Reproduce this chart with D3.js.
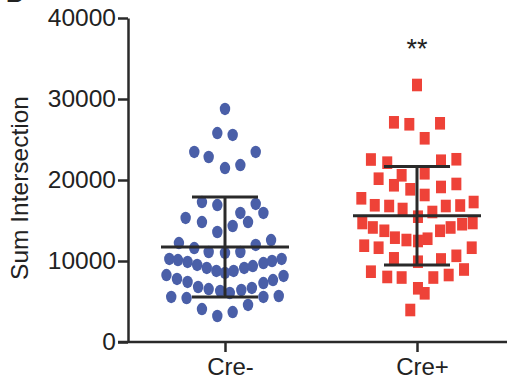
<!DOCTYPE html>
<html>
<head>
<meta charset="utf-8">
<script src="https://cdn.jsdelivr.net/npm/d3@7"></script>
<style>
  html, body { margin: 0; padding: 0; background: #fff; }
  svg { display: block; }
  text { font-family: "Liberation Sans", Arial, Helvetica, sans-serif; fill: #222; }
</style>
</head>
<body>
<svg id="chart" width="507" height="381"></svg>
<script>
// ---- Data ----
const categories = ["Cre-", "Cre+"];
const yTickValues = [0, 10000, 20000, 30000, 40000];
const yLabel = "Sum Intersection";
const significance = "**";

// Cre- group: values and horizontal scatter offsets (jitter units, 1 unit = 1/20 of category step)
const creMinusValues = [
  28770, 25800, 25560, 23460, 22840, 23460, 21480, 21850,
  17280, 16910, 17040, 15310, 14810, 15930, 15930, 14810, 14320, 13580,
  12220, 11600, 11110, 10990, 11110, 11980, 12590,
  10250, 10120, 9880, 9510, 9140, 8770, 8520, 8770, 9140, 9380, 9750, 10000, 10250,
  8270, 7780, 7410, 6790, 6540, 6300, 6050, 6420, 6670, 7280, 7650, 8150,
  5560, 5430, 5560, 5680, 4070, 3210, 3700, 4570
];
const creMinusJitter = [
  0, -0.8, 0.8, -3.2, -1.7, 3.2, 0, 1.6,
  -2.4, -0.8, 3.2, -4.1, -2.4, 1.6, 4.0, 2.4, 0.8, -0.8,
  -4.8, -3.2, -1.7, 0, 1.6, 3.2, 4.8,
  -5.8, -4.9, -3.9, -2.9, -1.9, -0.9, 0, 0.9, 2.0, 2.9, 4.0, 4.9, 5.9,
  -6.1, -5.0, -3.9, -2.8, -1.7, -0.5, 0.5, 1.7, 2.8, 4.0, 5.0, 6.1,
  -5.6, -4.0, 4.0, 5.6, -2.4, -0.8, 0.8, 2.4
];

// Cre+ group
const crePlusValues = [
  31730, 27120, 26880, 27000, 25150,
  22530, 22140, 22380, 22560, 20160, 20580, 20830,
  19350, 18850, 19140, 19510, 18150,
  17740, 16880, 16790, 16420, 16050, 16790, 16850, 17280, 15470,
  14690, 14140, 13730, 12880, 12590, 12470, 12750, 13730, 14140, 14540, 14690,
  11890, 11640, 10330, 9910, 10190, 10640, 11640,
  8680, 8030, 7960, 6630, 6010, 7960, 8270, 8950, 3950
];
const crePlusJitter = [
  0, -2.4, -0.8, 2.4, 0.8,
  -4.8, -3.1, 2.5, 4.1, -4.0, -1.6, 0.8,
  -2.4, -0.7, 2.5, 4.1, 0.8,
  -5.8, -4.4, -2.9, -1.5, 1.6, 3.0, 4.5, 5.9, 0.1,
  -5.7, -4.6, -3.4, -2.3, -1.1, 0.1, 1.1, 2.4, 3.5, 4.7, 5.8,
  -5.5, -4.0, -2.4, 0.1, 2.5, 4.1, 5.7,
  -4.8, -3.1, -1.6, 0.1, 0.8, 1.7, 3.3, 4.9, -0.7
];

// Summary statistics (mean ± SD) as drawn
const meanValues = [11730, 15590];
const sdValues = [6170, 6070];

// ---- Layout ----
const svg = d3.select("#chart");
const yAxisX = 128;
const xAxisY = 342;

const y = d3.scaleLinear().domain([0, 40000]).range([xAxisY, 18]);
const x = d3.scalePoint().domain(categories).range([129, 513]).padding(0.5);
const jitter = d3.scaleLinear().domain([-20, 20]).range([-x.step(), x.step()]);

const colors = { "Cre-": "#4a5fa8", "Cre+": "#ee4238" };

const points = [];
creMinusValues.forEach((v, i) => points.push({ cat: "Cre-", v, j: creMinusJitter[i] }));
crePlusValues.forEach((v, i) => points.push({ cat: "Cre+", v, j: crePlusJitter[i] }));

// Partial panel letter at top-left (cut off in the reference too)
svg.append("text").attr("x", 6).attr("y", 2).attr("font-size", 24).attr("font-weight", "bold").text("B");

// Points
const gPts = svg.append("g");
gPts.selectAll("ellipse")
  .data(points.filter(d => d.cat === "Cre-"))
  .join("ellipse")
  .attr("cx", d => x(d.cat) + jitter(d.j))
  .attr("cy", d => y(d.v))
  .attr("rx", 5.2).attr("ry", 6.2)
  .attr("fill", colors["Cre-"]);

gPts.selectAll("rect")
  .data(points.filter(d => d.cat === "Cre+"))
  .join("rect")
  .attr("x", d => x(d.cat) + jitter(d.j) - 5)
  .attr("y", d => y(d.v) - 6.3)
  .attr("width", 10).attr("height", 12.6)
  .attr("fill", colors["Cre+"]);

// Mean ± SD bars
const lineColor = "#2a2a2a";
const gBars = svg.append("g").attr("stroke", lineColor).attr("stroke-width", 3);
categories.forEach((c, i) => {
  const cx = x(c);
  const m = meanValues[i], s = sdValues[i];
  gBars.append("line").attr("x1", cx).attr("x2", cx).attr("y1", y(m + s)).attr("y2", y(m - s));
  gBars.append("line").attr("x1", cx - 64).attr("x2", cx + 64).attr("y1", y(m)).attr("y2", y(m));
  gBars.append("line").attr("x1", cx - 33).attr("x2", cx + 33).attr("y1", y(m + s)).attr("y2", y(m + s));
  gBars.append("line").attr("x1", cx - 33).attr("x2", cx + 33).attr("y1", y(m - s)).attr("y2", y(m - s));
});

// Y axis
const yAxis = d3.axisLeft(y).tickValues(yTickValues).tickFormat(d3.format("d"))
  .tickSize(10).tickSizeOuter(0).tickPadding(2);
const gy = svg.append("g").attr("transform", `translate(${yAxisX},0)`).call(yAxis);
gy.select(".domain").attr("stroke", lineColor).attr("stroke-width", 2.5);
gy.selectAll(".tick line").attr("stroke", lineColor).attr("stroke-width", 2.5);
gy.selectAll(".tick text").attr("font-size", 24.5).attr("fill", "#222")
  .style("font-family", "'Liberation Sans', Arial, sans-serif");

// X axis
const xAxis = d3.axisBottom(x).tickSize(10).tickSizeOuter(0).tickPadding(6);
const gx = svg.append("g").attr("transform", `translate(0,${xAxisY})`).call(xAxis);
gx.select(".domain").remove();
gx.append("line").attr("x1", 118).attr("x2", 507).attr("y1", 0).attr("y2", 0)
  .attr("stroke", lineColor).attr("stroke-width", 2.5);
gx.selectAll(".tick line").attr("stroke", lineColor).attr("stroke-width", 2.5);
gx.selectAll(".tick text").attr("font-size", 24).attr("fill", "#222").attr("dx", 5)
  .style("font-family", "'Liberation Sans', Arial, sans-serif");

// Y label
svg.append("text")
  .attr("transform", `translate(28,${(y(0) + y(40000)) / 2 + 8}) rotate(-90)`)
  .attr("text-anchor", "middle")
  .attr("font-size", 24.5)
  .text(yLabel);

// Significance stars
svg.append("text")
  .attr("x", x("Cre+"))
  .attr("y", 58)
  .attr("text-anchor", "middle")
  .attr("font-size", 27)
  .text(significance);
</script>
</body>
</html>
